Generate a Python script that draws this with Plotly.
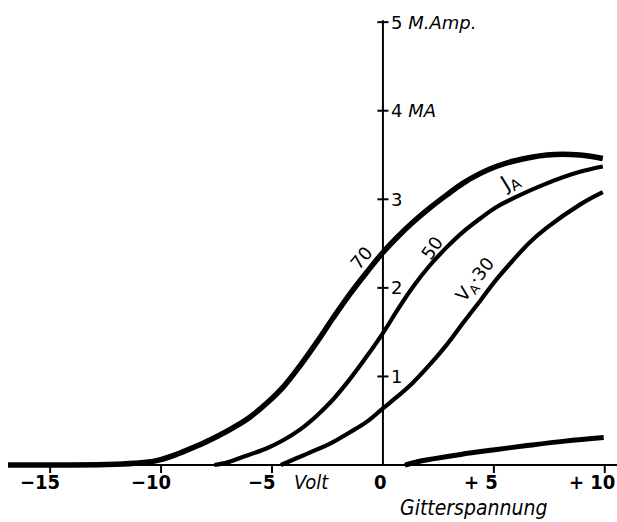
import plotly.graph_objects as go

# ---- data (grid voltage in V, anode current in mA) ----
vg_70 = [-16.9, -14.5, -12.5, -11.2, -10.2, -9.2, -8.25, -7.66, -6.76, -6.0, -5.23, -4.5, -3.74, -2.97,
         -2.25, -1.49, -0.72, 0.0, 0.68, 1.35, 2.1, 2.88, 3.6, 4.37, 5.1, 5.86, 7.39, 8.88, 9.91]
ia_70 = [0.0, 0.0, 0.005, 0.02, 0.05, 0.13, 0.23, 0.30, 0.42, 0.54, 0.70, 0.88, 1.12, 1.39,
         1.66, 1.93, 2.18, 2.40, 2.58, 2.74, 2.90, 3.05, 3.18, 3.29, 3.37, 3.43, 3.50, 3.50, 3.46]

vg_50 = [-7.6, -7.0, -6.44, -5.23, -4.5, -3.74, -2.97, -2.25, -1.49, -0.72, 0.0, 0.68, 1.35, 2.1,
         2.88, 3.6, 4.37, 5.1, 5.86, 7.39, 8.88, 9.91]
ia_50 = [0.0, 0.03, 0.08, 0.19, 0.28, 0.40, 0.56, 0.74, 0.97, 1.23, 1.49, 1.76, 2.01, 2.25,
         2.46, 2.63, 2.78, 2.91, 3.01, 3.18, 3.31, 3.37]

vg_30 = [-4.6, -4.05, -3.3, -2.25, -1.49, -0.72, 0.0, 0.68, 1.35, 2.1, 2.88, 3.6, 4.37, 5.1,
         5.86, 6.6, 7.39, 8.88, 9.91]
ia_30 = [0.0, 0.06, 0.14, 0.26, 0.37, 0.49, 0.64, 0.78, 0.93, 1.13, 1.36, 1.60, 1.85, 2.09,
         2.31, 2.51, 2.68, 2.94, 3.08]

vg_g = [0.99, 1.6, 2.25, 3.5, 4.96, 6.5, 8.2, 9.95]
ig_g = [0.0, 0.04, 0.07, 0.12, 0.17, 0.22, 0.27, 0.31]

x_tick_vals = [-15, -10, -5, 0, 5, 10]
x_tick_text = ["\u221215", "\u221210", "\u22125", "0", "+ 5", "+ 10"]
x_tick_digits = [2, 2, 1, 1, 1, 2]
x_tick_marks = [-15, -10, -5, 5, 10]

y_tick_vals = [1, 2, 3, 4, 5]
y_tick_text = ["1", "2", "3", "4 <i>MA</i>", "5 <i>M.Amp.</i>"]

curve_labels = ["70", "50", "V<sub>A</sub>\u00b730", "J<sub>A</sub>"]
curve_label_x = [-0.95, 2.21, 4.19, 5.7]
curve_label_y = [2.34, 2.46, 2.09, 3.2]
curve_label_angle = [-50, -55, -52, -32]
curve_label_size = [18, 18, 18, 21]

X_RANGE = [-17.26, 10.55]
Y_RANGE = [-0.643, 5.25]

FONT = "DejaVu Sans Condensed"

fig = go.Figure()

def line(x, y, w, shape="linear"):
    fig.add_trace(go.Scatter(x=x, y=y, mode="lines",
                             line=dict(color="black", width=w, shape=shape, smoothing=1.1 if shape == "spline" else None),
                             hoverinfo="skip", showlegend=False))

# axes
line([-16.9, X_RANGE[1]], [0, 0], 2)
line([0, 0], [0, 5.02], 2)
for v in x_tick_marks:
    line([v, v], [0, -0.09], 2)
for v in y_tick_vals:
    line([-0.25, 0.25], [v, v], 2)

# characteristic curves
line(vg_70, ia_70, 5.5, "spline")
line(vg_50, ia_50, 4.2, "spline")
line(vg_30, ia_30, 4.2, "spline")
line(vg_g, ig_g, 5, "spline")

ann = []
for v, t, d in zip(x_tick_vals, x_tick_text, x_tick_digits):
    ann.append(dict(x=v, y=-0.19, text="<b>" + t + "</b>", showarrow=False, xanchor="right", yanchor="middle",
                    xshift=6 * d, font=dict(family=FONT, size=20, color="black")))
ann.append(dict(x=-4.1, y=-0.19, text="<i>Volt</i>", showarrow=False, xanchor="left", yanchor="middle",
                font=dict(family=FONT, size=20, color="black")))
ann.append(dict(x=4.1, y=-0.48, text="<i>Gitterspannung</i>", showarrow=False,
                xanchor="center", yanchor="middle", font=dict(family=FONT, size=21, color="black")))
for v, t in zip(y_tick_vals, y_tick_text):
    ann.append(dict(x=0, y=v, text=t, showarrow=False, xanchor="left", yanchor="middle", xshift=6,
                    font=dict(family="DejaVu Sans", size=18, color="black")))
for t, x, y, a, s in zip(curve_labels, curve_label_x, curve_label_y, curve_label_angle, curve_label_size):
    ann.append(dict(x=x, y=y, text=t, showarrow=False, textangle=a, xanchor="center", yanchor="middle",
                    font=dict(family="DejaVu Sans", size=s, color="black")))

fig.update_layout(
    width=617, height=522,
    margin=dict(l=0, r=0, t=0, b=0),
    paper_bgcolor="white", plot_bgcolor="white",
    xaxis=dict(range=X_RANGE, visible=False, fixedrange=True),
    yaxis=dict(range=Y_RANGE, visible=False, fixedrange=True),
    annotations=ann,
    showlegend=False,
)

fig.write_html("out.html", config={"displayModeBar": False},
               post_script="document.body.style.margin='0';document.body.style.overflow='hidden';")
